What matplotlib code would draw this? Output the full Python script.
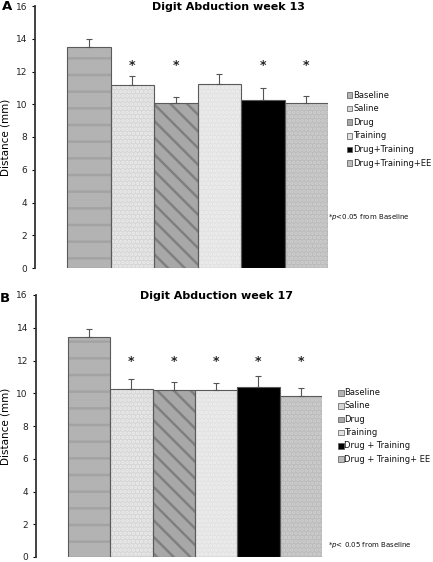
"""Digit abduction distance, weeks 13 and 17 (two stacked bar panels)."""
import matplotlib
matplotlib.use("Agg")
import matplotlib.pyplot as plt
from matplotlib.patches import Rectangle

plt.rcParams["font.family"] = "DejaVu Sans"
plt.rcParams["hatch.linewidth"] = 1.8

W, H = 433, 562

# ---- data -------------------------------------------------------------
labels_a = ["Baseline", "Saline", "Drug", "Training", "Drug+Training",
            "Drug+Training+EE"]
labels_b = ["Baseline", "Saline", "Drug", "Training", "Drug + Training",
            "Drug + Training+ EE"]
means_a = [13.5, 11.17, 10.07, 11.22, 10.25, 10.05]
sem_a   = [0.48, 0.58, 0.35, 0.62, 0.73, 0.43]
star_a  = [False, True, True, False, True, True]
means_b = [13.45, 10.23, 10.18, 10.18, 10.38, 9.85]
sem_b   = [0.5, 0.65, 0.5, 0.47, 0.65, 0.45]
star_b  = [False, True, True, True, True, True]

# face colour, hatch, hatch colour
STYLES = [
    ("#b3b3b3", "-",     "#a3a3a3"),
    ("#d6d6d6", "....",  "#ececec"),
    ("#a8a8a8", "\\\\",  "#808080"),
    ("#e2e2e2", "....",  "#eeeeee"),
    ("#000000", "",      "#000000"),
    ("#bcbcbc", "....",  "#cfcfcf"),
]


def fx(px): return px / W
def fy(py): return 1 - py / H


def panel(fig, rect_px, xleft, means, sem, stars, star_y, title, tag,
          title_xy, tag_xy, legend_labels, leg_px, note, note_px):
    x0, top, x1, bot = rect_px
    ax = fig.add_axes([fx(x0), fy(bot), (x1 - x0) / W, (bot - top) / H])
    pos = list(range(len(means)))
    for p, m, (fc, hatch, hc) in zip(pos, means, STYLES):
        ax.bar(p, m, width=1.0, color=fc, hatch=hatch, edgecolor=hc,
               linewidth=0, zorder=2)
    ax.bar(pos, means, width=1.0, fill=False, edgecolor="#5a5a5a",
           linewidth=0.8, zorder=3)
    ax.errorbar(pos, means, yerr=[[0] * len(sem), sem], fmt="none",
                ecolor="#555555", elinewidth=0.8, capsize=2.5,
                capthick=0.8, zorder=4)
    for p, s in zip(pos, stars):
        if s:
            ax.text(p, star_y, "*", ha="center", va="center", fontsize=9,
                    fontweight="bold", color="#222222")
    ax.set_xlim(xleft, 5.5)
    ax.set_ylim(0, 16)
    ax.set_yticks(range(0, 17, 2))
    ax.set_xticks([])
    for s in ("top", "right", "bottom"):
        ax.spines[s].set_visible(False)
    ax.spines["left"].set_color("#333333")
    ax.spines["left"].set_linewidth(1.3)
    ax.tick_params(axis="y", direction="out", length=2.5, width=0.8,
                   labelsize=6.5, labelcolor="#222222", pad=3)
    ax.set_ylabel("Distance (mm)", fontsize=7.5)
    ax.yaxis.set_label_coords(-(x0 - 11) / (x1 - x0), 0.5)

    fig.text(fx(title_xy[0]), fy(title_xy[1]), title, ha="center",
             va="center", fontsize=8, fontweight="bold")
    fig.text(fx(tag_xy[0]), fy(tag_xy[1]), tag, ha="left", va="center",
             fontsize=9.5, fontweight="bold")

    sq_x, txt_x, y0, dy = leg_px
    for i, (lab, (fc, hatch, hc)) in enumerate(zip(legend_labels, STYLES)):
        y = y0 + i * dy
        fig.add_artist(Rectangle((fx(sq_x), fy(y + 2.8)), 5.6 / W, 5.6 / H,
                                 transform=fig.transFigure, facecolor=fc,
                                 edgecolor="#555555", linewidth=0.5))
        fig.text(fx(txt_x), fy(y), lab, ha="left", va="center", fontsize=6.0,
                 color="#111111")
    fig.text(fx(note_px[0]), fy(note_px[1]), note, ha="left", va="center",
             fontsize=5.0, color="#111111")
    return ax


fig = plt.figure(figsize=(W / 100, H / 100), dpi=100)

panel(fig, (35, 6, 328, 268), -1.236, means_a, sem_a, star_a, 12.35,
      "Digit Abduction week 13", "A", (228, 7), (2, 7),
      labels_a, (346.5, 353, 95, 13.65),
      r"*$\mathit{p}$<0.05 from Baseline", (328, 217))

panel(fig, (35.5, 295, 322, 557), -1.267, means_b, sem_b, star_b, 11.95,
      "Digit Abduction week 17", "B", (216, 296), (0, 298),
      labels_b, (338, 344.5, 392.7, 13.3),
      r"*$\mathit{p}$< 0.05 from Baseline", (328, 545))

fig.savefig("out.png", dpi=100)
